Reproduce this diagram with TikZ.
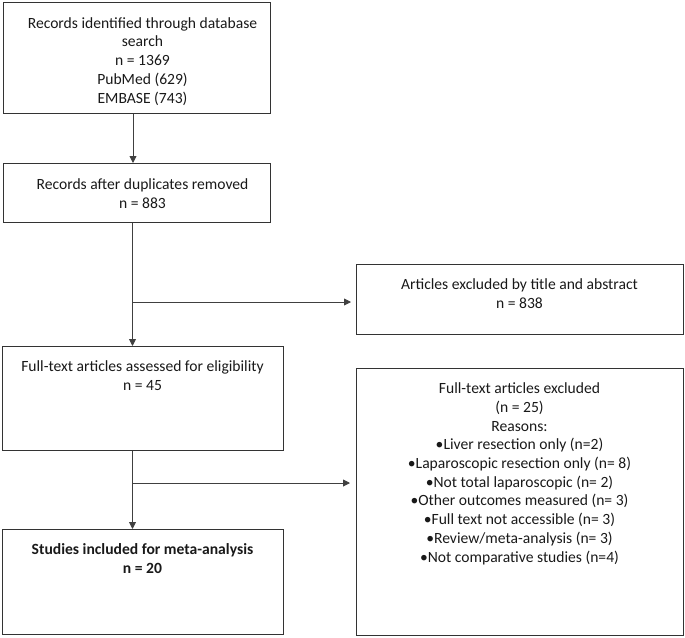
\documentclass[tikz,border=0pt]{standalone}
\usepackage{fontspec}
\setmainfont{Carlito}
\usetikzlibrary{arrows.meta}
\begin{document}
\begin{tikzpicture}[x=1pt,y=-1pt,
  box/.style={draw=black!80, line width=0.9pt, inner sep=0pt, anchor=north west},
  txt/.style={font=\fontsize{15.6}{18.7}\selectfont, align=center, anchor=base, inner sep=0pt, text=black!90},
  arr/.style={draw=black!75, line width=0.9pt, -{Triangle[width=7pt,length=7pt]}}]
\useasboundingbox (0,0) rectangle (685,637);
\node[box, minimum width=267pt, minimum height=111pt] (b1) at (3,2) {};
\node[box, minimum width=267pt, minimum height=59pt] (b2) at (3,163) {};
\node[box, minimum width=327pt, minimum height=70pt] (b3) at (356,264) {};
\node[box, minimum width=281pt, minimum height=104pt] (b4) at (2,346) {};
\node[box, minimum width=281pt, minimum height=105pt] (b5) at (2,529) {};
\node[box, minimum width=327pt, minimum height=267pt] (b6) at (356,368) {};

\node[txt] (t1) at (142.5,103) {Records identified through database\\search\\n = 1369\\PubMed (629)\\EMBASE (743)};
\node[txt] (t2) at (142.5,208) {Records after duplicates removed\\n = 883};
\node[txt] (t3) at (519.5,308) {Articles excluded by title and abstract\\n = 838};
\node[txt] (t4) at (142.5,390) {Full-text articles assessed for eligibility\\n = 45};
\node[txt, font=\fontsize{15.6}{18.7}\selectfont\bfseries] (t5) at (142.5,573) {Studies included for meta-analysis\\n = 20};
\node[txt] (t6) at (519.5,562) {Full-text articles excluded\\(n = 25)\\Reasons:\\•Liver resection only (n=2)\\•Laparoscopic resection only (n= 8)\\•Not total laparoscopic (n= 2)\\•Other outcomes measured (n= 3)\\•Full text not accessible (n= 3)\\•Review/meta-analysis (n= 3)\\•Not comparative studies (n=4)};

\coordinate (c1) at (133,0);
\coordinate (c2) at (132.5,0);
\coordinate (h1) at (0,302);
\coordinate (h2) at (0,483);
\draw[arr] (b1.south -| c1) -- (b2.north -| c1);
\draw[arr] (b2.south -| c2) -- (b4.north -| c2);
\draw[arr, shorten >=5pt] (h1 -| c2) -- (h1 -| b3.west);
\draw[arr] (b4.south -| c2) -- (b5.north -| c2);
\draw[arr, shorten >=6pt] (h2 -| c2) -- (h2 -| b6.west);
\end{tikzpicture}
\end{document}
